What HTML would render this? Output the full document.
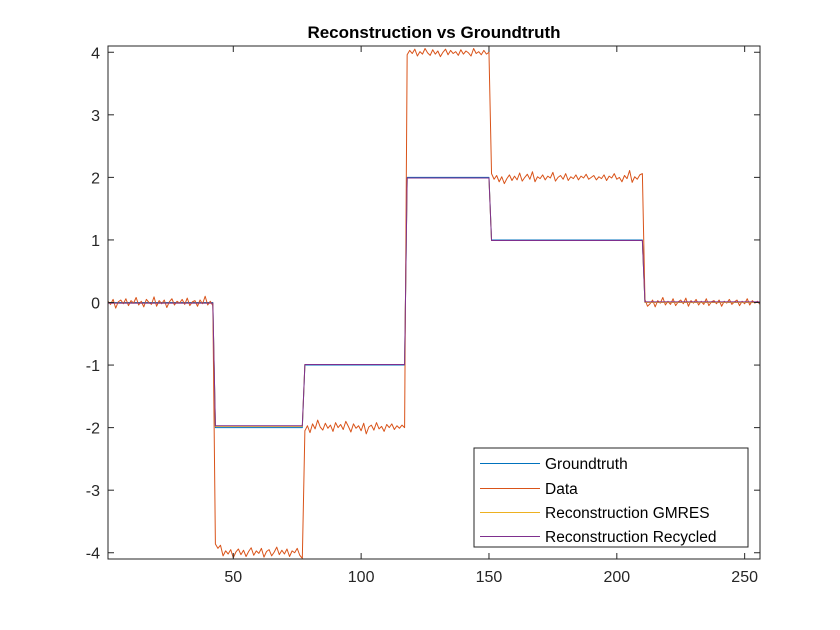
<!DOCTYPE html>
<html><head><meta charset="utf-8"><style>
body{margin:0;background:#fff;}
svg{display:block;font-family:"Liberation Sans",Arial,sans-serif;}
</style></head><body>
<svg id="chart" width="840" height="630" viewBox="0 0 840 630" xmlns="http://www.w3.org/2000/svg">
<rect x="0" y="0" width="840" height="630" fill="#fff"/>
<text x="434" y="38" text-anchor="middle" font-size="17" font-weight="bold" fill="#000">Reconstruction vs Groundtruth</text>
<g id="plot"></g>
<g id="axes"></g>
<g id="legend">
<rect x="474" y="448" width="274" height="99" fill="#fff" stroke="#262626" stroke-width="1"/>
<g><line x1="480" y1="463.5" x2="540" y2="463.5" stroke="#0072BD"/><text x="545" y="469" font-size="15.5" fill="#000">Groundtruth</text></g>
<g><line x1="480" y1="488.5" x2="540" y2="488.5" stroke="#D95319"/><text x="545" y="494" font-size="15.5" fill="#000">Data</text></g>
<g><line x1="480" y1="512.5" x2="540" y2="512.5" stroke="#EDB120"/><text x="545" y="518" font-size="15.5" fill="#000">Reconstruction GMRES</text></g>
<g><line x1="480" y1="536.5" x2="540" y2="536.5" stroke="#7E2F8E"/><text x="545" y="542" font-size="15.5" fill="#000">Reconstruction Recycled</text></g>
</g>
</svg>
<script>
const segStarts = [1, 43, 78, 118, 151, 211];
const truthLevels = [0, -2, -1, 2, 1, 0];
const gmresLevels = [-0.01, -1.98, -0.99, 1.99, 0.99, 0.00];
const recycledLevels = [-0.01, -1.97, -0.99, 1.99, 0.99, 0.01];
const dataValues = [
0.02,-0.03,0.05,-0.09,0.01,0.04,-0.02,0.06,-0.05,0.03,
-0.01,0.08,-0.04,0.02,-0.07,0.05,0.00,-0.03,0.09,-0.06,
0.03,-0.02,0.04,-0.08,0.01,0.06,-0.04,0.02,-0.01,0.05,
-0.03,0.07,-0.05,0.01,0.03,-0.06,0.04,-0.02,0.10,-0.04,
0.02,-0.05,
-3.86,-3.93,-3.88,-4.05,-3.97,-4.02,-3.95,-4.08,-3.99,-3.94,
-4.03,-3.96,-4.06,-3.98,-3.92,-4.04,-3.97,-4.01,-3.93,-4.07,
-3.98,-3.95,-4.05,-3.99,-3.91,-4.03,-3.96,-4.02,-3.94,-4.06,
-3.97,-4.00,-3.93,-4.04,-4.09,
-2.05,-1.97,-2.08,-1.94,-2.02,-1.88,-1.99,-2.04,-1.93,-2.01,
-1.96,-2.06,-1.92,-2.00,-1.95,-2.03,-1.90,-1.98,-2.07,-1.94,
-2.01,-1.97,-2.05,-1.93,-2.10,-1.99,-1.96,-2.04,-1.92,-2.02,
-1.98,-2.06,-1.95,-2.00,-1.94,-2.03,-1.97,-2.01,-1.96,-2.00,
3.96,4.03,3.98,4.05,3.94,4.01,3.97,4.06,3.99,3.95,
4.04,3.97,4.02,3.93,4.00,4.05,3.96,4.03,3.98,4.01,
3.95,4.04,3.97,4.02,3.99,3.94,4.06,3.98,4.01,3.96,
4.03,3.97,4.00,
2.06,1.97,2.03,1.93,2.01,1.90,1.98,2.04,1.95,2.02,
1.96,2.07,1.94,2.00,2.05,1.97,2.09,1.93,2.01,1.98,
2.04,1.96,2.02,1.99,2.08,1.94,2.00,2.03,1.97,2.06,
1.95,2.01,1.98,2.04,1.96,2.02,1.99,2.05,1.97,2.00,
2.03,1.96,2.01,1.98,2.04,1.95,2.02,1.99,2.06,1.97,
2.00,1.93,2.03,1.98,2.11,1.92,2.01,1.97,2.04,2.06,
0.05,-0.06,-0.02,0.04,-0.07,0.03,-0.01,0.08,-0.04,0.02,
-0.03,0.06,-0.05,0.01,0.04,-0.02,0.07,-0.06,0.03,-0.01,
0.05,-0.04,0.02,-0.03,0.06,-0.05,0.01,0.03,-0.02,0.04,
-0.06,0.02,-0.01,0.05,-0.03,0.01,0.04,-0.05,0.02,-0.02,
0.06,-0.04,0.03,-0.01,0.02,-0.03];
const xTicks = [50, 100, 150, 200, 250];
const yTicks = [-4, -3, -2, -1, 0, 1, 2, 3, 4];
const xDomain = [1, 256];
const yDomain = [-4.1, 4.1];

const L = 108, R = 760, T = 46, B = 559;
const NS = 'http://www.w3.org/2000/svg';
function xs(v){ return L + (v - xDomain[0]) / (xDomain[1] - xDomain[0]) * (R - L); }
function ys(v){ return B - (v - yDomain[0]) / (yDomain[1] - yDomain[0]) * (B - T); }
function levelAt(levels, i){ let k = 0; for (let s = 0; s < segStarts.length; s++) if (i >= segStarts[s]) k = s; return levels[k]; }
function seriesFromLevels(levels){ const a = []; for (let i = xDomain[0]; i <= xDomain[1]; i++) a.push(levelAt(levels, i)); return a; }
const plot = document.getElementById('plot');
const axes = document.getElementById('axes');
function mk(tag, attrs, parent){ const e = document.createElementNS(NS, tag); for (const k in attrs) e.setAttribute(k, attrs[k]); parent.appendChild(e); return e; }
function drawLine(vals, color, name){
  const pts = vals.map((v, i) => xs(i + 1).toFixed(2) + ',' + ys(v).toFixed(2)).join(' ');
  const p = mk('polyline', {points: pts, fill: 'none', stroke: color, 'stroke-width': 1, 'stroke-linejoin': 'round'}, plot);
  
  
}
drawLine(seriesFromLevels(truthLevels), '#0072BD', 'groundtruth-line');
drawLine(dataValues, '#D95319', 'data-line');
drawLine(seriesFromLevels(gmresLevels), '#EDB120', 'gmres-line');
drawLine(seriesFromLevels(recycledLevels), '#7E2F8E', 'recycled-line');

const box = mk('rect', {x: L, y: T, width: R - L, height: B - T, fill: 'none', stroke: '#262626', 'stroke-width': 1}, axes);


xTicks.forEach(t => {
  const x = xs(t);
  mk('line', {x1: x, y1: B, x2: x, y2: B - 6, stroke: '#262626'}, axes);
  mk('line', {x1: x, y1: T, x2: x, y2: T + 6, stroke: '#262626'}, axes);
  const tx = mk('text', {x: x, y: B + 23, 'text-anchor': 'middle', 'font-size': 16, fill: '#262626'}, axes);
  tx.textContent = t;
  
  
});
yTicks.forEach(t => {
  const y = ys(t);
  mk('line', {x1: L, y1: y, x2: L + 6, y2: y, stroke: '#262626'}, axes);
  mk('line', {x1: R, y1: y, x2: R - 6, y2: y, stroke: '#262626'}, axes);
  const tx = mk('text', {x: L - 8, y: y + 6, 'text-anchor': 'end', 'font-size': 16, fill: '#262626'}, axes);
  tx.textContent = t;
  
  
});
</script>
</body></html>
